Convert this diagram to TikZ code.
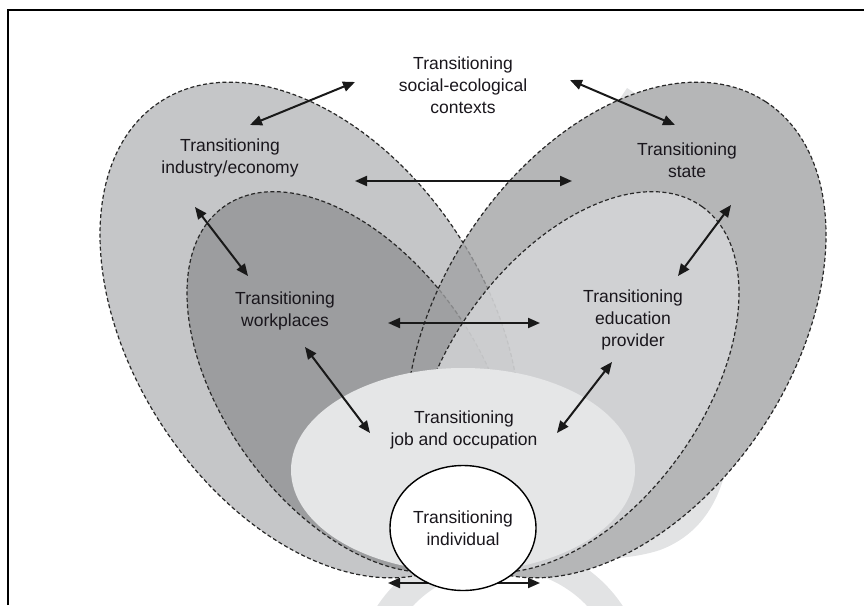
\documentclass[tikz,border=0pt]{standalone}
\usepackage{fontspec}
\setmainfont{Liberation Sans}
\usetikzlibrary{arrows.meta,shapes.geometric}
\definecolor{outerL}{RGB}{197,198,200}
\definecolor{innerL}{RGB}{156,157,159}
\definecolor{outerR}{RGB}{160,161,163}
\definecolor{innerR}{RGB}{220,221,223}
\definecolor{jobfill}{RGB}{229,230,231}
\definecolor{swoosh}{RGB}{226,227,228}
\definecolor{dashcol}{RGB}{40,40,40}
\definecolor{txt}{RGB}{25,22,28}
\begin{document}
\begin{tikzpicture}[x=1pt,y=-1pt,
  zone/.style={draw=dashcol, line width=1.2pt, dash pattern=on 4pt off 2.5pt},
  lbl/.style={align=center, text=txt, font=\fontsize{17.5}{22}\selectfont, inner sep=0pt},
  link/.style={draw=black!90, line width=2pt, >={Triangle[length=12pt,width=10pt]}, <->}]
\useasboundingbox (0,0) rectangle (864,605);
\clip (0,0) rectangle (864,605);
% faint background swoosh, only where it shows outside the state zone
\begin{scope}[even odd rule]
  \clip (-500,-500) rectangle (1500,1500) {[rotate around={56.7:(616,330)}] (616,330) ellipse [x radius=273pt, y radius=176pt]};
  \draw[swoosh, line width=28pt] (500,680) ellipse [x radius=131pt, y radius=125pt];
  \fill[swoosh] (730,445) .. controls (724,500) and (700,535) .. (660,550) .. controls (630,560) and (590,560) .. (555,560) -- (600,450) -- cycle;
  \fill[swoosh] (615,106) -- (627,88) -- (645,100) -- cycle;
\end{scope}
% zones
\path[zone, fill=outerL, rotate around={-56.7:(310,330)}] (310,330) ellipse [x radius=273pt, y radius=176pt];
\path[zone, fill=innerL, rotate around={-54.2:(350,382)}] (350,382) ellipse [x radius=216pt, y radius=127pt];
\path[zone, fill=outerR, fill opacity=0.78, rotate around={56.7:(616,330)}] (616,330) ellipse [x radius=273pt, y radius=176pt];
\path[zone, fill=innerR, fill opacity=0.7, rotate around={54.2:(576,382)}] (576,382) ellipse [x radius=216pt, y radius=127pt];
\node[ellipse, fill=jobfill, minimum width=344pt, minimum height=204pt, inner sep=0pt] (jobzone) at (463,470) {};
% frame
\draw[line width=2.6pt] (8,605) -- (8,10) -- (864,10);
% labels
\node[lbl] (social) at (463,85) {Transitioning\\social-ecological\\contexts};
\node[lbl] (industry) at (230,158) {Transitioning\\industry/economy};
\node[lbl] (state) at (687,160) {Transitioning\\state};
\node[lbl] (workplaces) at (285,311) {Transitioning\\workplaces};
\node[lbl] (education) at (633,320) {Transitioning\\education\\provider};
\node[lbl] (job) at (464,430) {Transitioning\\job and occupation};
% arrow end points
\coordinate (s1) at (355,82);  \coordinate (i1) at (250,125);
\coordinate (s2) at (570,80);  \coordinate (t1) at (675,125);
\coordinate (i2) at (355,181); \coordinate (t2) at (572,181);
\coordinate (i3) at (195,207); \coordinate (w1) at (248,276);
\coordinate (t3) at (731,205); \coordinate (e1) at (678,276);
\coordinate (w2) at (388,323); \coordinate (e2) at (540,323);
\coordinate (w3) at (305,347); \coordinate (j1) at (370,433);
\coordinate (e3) at (612,362); \coordinate (j2) at (557,433);
\coordinate (bl) at (388,583); \coordinate (br) at (540,583);
\draw[link] (s1) -- (i1);
\draw[link] (s2) -- (t1);
\draw[link] (i2) -- (t2);
\draw[link] (i3) -- (w1);
\draw[link] (t3) -- (e1);
\draw[link] (w2) -- (e2);
\draw[link] (w3) -- (j1);
\draw[link] (e3) -- (j2);
\draw[link] (bl) -- (br);
\node[ellipse, draw=black, line width=1.4pt, fill=white, minimum width=146pt, minimum height=125pt, inner sep=0pt, align=center, text=txt, font=\fontsize{17.5}{22}\selectfont] (individual) at (463,528) {Transitioning\\individual};
\end{tikzpicture}
\end{document}
